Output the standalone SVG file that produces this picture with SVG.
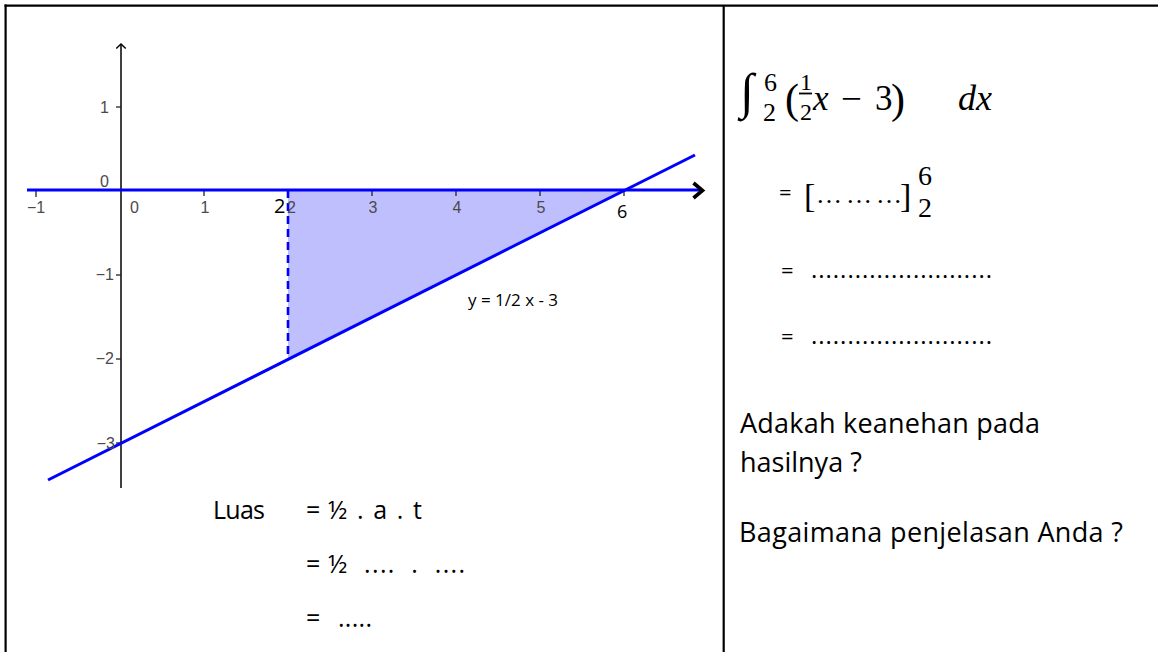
<svg xmlns="http://www.w3.org/2000/svg" width="1158" height="652" viewBox="0 0 1158 652">
<style>
.tick{font-family:"Liberation Sans",Arial,sans-serif;font-size:16px;fill:#4a4a4a}
.txt{font-family:"Open Sans","Noto Sans",sans-serif;fill:#000}
.m{font-family:"Liberation Serif","DejaVu Serif",serif;fill:#000}
.it{font-style:italic}
.blue{stroke:#0000ff;fill:none}
</style>
<rect width="1158" height="652" fill="#fff"/>
<g id="frame" stroke="#000" stroke-width="2.2" fill="none">
<line x1="5.6" y1="4.6" x2="5.6" y2="652"/>
<line x1="4.5" y1="5.6" x2="1158" y2="5.6"/>
<line x1="723.7" y1="5" x2="723.7" y2="652"/>
</g>
<g id="graph">
<polygon points="288,190 624,190 288,359" fill="#bfbffd"/>
<line x1="121" y1="44" x2="121" y2="488" stroke="#000" stroke-width="1.5"/>
<polyline points="116.3,48.5 121,44 125.7,48.5" fill="none" stroke="#000" stroke-width="1.5"/>
<g stroke="#222" stroke-width="1.3">
<line x1="116" y1="107" x2="121" y2="107"/>
<line x1="116" y1="275" x2="121" y2="275"/>
<line x1="116" y1="359" x2="121" y2="359"/>
<line x1="116" y1="443" x2="121" y2="443"/>
<line x1="36" y1="190" x2="36" y2="197"/>
<line x1="204" y1="190" x2="204" y2="196"/>
<line x1="372" y1="190" x2="372" y2="196"/>
<line x1="456" y1="190" x2="456" y2="196"/>
<line x1="540" y1="190" x2="540" y2="196"/>
<line x1="624" y1="190" x2="624" y2="196"/>
</g>
<line class="blue" x1="27" y1="190" x2="701" y2="190" stroke-width="3"/>
<polyline points="693.5,183 702.5,190.5 693.5,198" fill="none" stroke="#000" stroke-width="3.6"/>
<line class="blue" x1="288" y1="190" x2="288" y2="359" stroke-width="2.6" stroke-dasharray="8 5"/>
<line class="blue" x1="48" y1="480" x2="695" y2="155" stroke-width="3"/>
<text class="tick" x="109" y="113" text-anchor="end">1</text>
<text class="tick" x="109" y="187" text-anchor="end">0</text>
<text class="tick" x="114" y="280" text-anchor="end">−1</text>
<text class="tick" x="114" y="364" text-anchor="end">−2</text>
<text class="tick" x="115" y="449" text-anchor="end">−3</text>
<text class="tick" x="36" y="213" text-anchor="middle">−1</text>
<text class="tick" x="130" y="213">0</text>
<text class="tick" x="205" y="213" text-anchor="middle">1</text>
<text class="tick" x="287" y="213" font-size="14">2</text>
<text class="tick" x="373" y="213" text-anchor="middle">3</text>
<text class="tick" x="457" y="213" text-anchor="middle">4</text>
<text class="tick" x="541" y="213" text-anchor="middle">5</text>
<text class="txt" x="274" y="213" font-size="20">2</text>
<text class="txt" x="617" y="218" font-size="18">6</text>
<text class="txt" x="468" y="306" font-size="17">y = 1/2 x - 3</text>
</g>
<g id="luas" class="txt" font-size="25">
<text x="213" y="519" textLength="52">Luas</text>
<text x="306" y="519">=</text>
<text x="328" y="519" textLength="94">½ . a . t</text>
<text x="306" y="573">=</text>
<text x="328" y="573" textLength="137" xml:space="preserve">½  ....  .  ....</text>
<text x="306" y="627">=</text>
<text x="338" y="627" textLength="34">.....</text>
</g>
<g id="integral">
<text class="m it" x="740" y="108" font-size="50">∫</text>
<text class="m" x="764" y="91" font-size="26">6</text>
<text class="m" x="763" y="121" font-size="26">2</text>
<text class="m" x="785" y="113" font-size="42">(</text>
<text class="m" x="800" y="90" font-size="24">1</text>
<line x1="799" y1="93.5" x2="812" y2="93.5" stroke="#000" stroke-width="1.8"/>
<text class="m" x="800" y="120" font-size="24">2</text>
<text class="m it" x="813" y="110" font-size="35">x</text>
<text class="m" x="841" y="111" font-size="37">−</text>
<text class="m" x="875" y="110" font-size="35">3</text>
<text class="m" x="891" y="113" font-size="42">)</text>
<text class="m it" x="958" y="110" font-size="36">dx</text>
</g>
<g id="bracket">
<text class="txt" x="779" y="200" font-size="22">=</text>
<text class="m" x="804" y="207" font-size="34">[</text>
<text class="m" x="816" y="203" font-size="26" textLength="86">… … …</text>
<text class="m" x="900" y="207" font-size="34">]</text>
<text class="m" x="918" y="185" font-size="28">6</text>
<text class="m" x="918" y="217" font-size="28">2</text>
</g>
<g id="dots" class="txt" font-size="24">
<text x="781" y="278" font-size="22">=</text>
<text x="811" y="278" textLength="181">.........................</text>
<text x="781" y="344" font-size="22">=</text>
<text x="811" y="344" textLength="181">.........................</text>
</g>
<g id="questions" class="txt" font-size="27">
<text x="740" y="433" textLength="300">Adakah keanehan pada</text>
<text x="740" y="472">hasilnya ?</text>
<text x="739" y="542" textLength="384">Bagaimana penjelasan Anda ?</text>
</g>
</svg>
